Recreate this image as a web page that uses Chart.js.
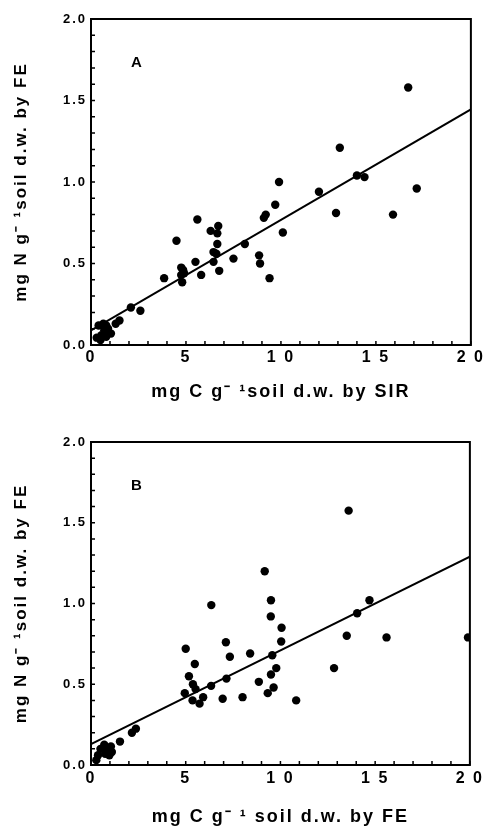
<!DOCTYPE html>
<html>
<head>
<meta charset="utf-8">
<script src="https://cdn.jsdelivr.net/npm/chart.js@4"></script>
<style>
  body { margin: 0; background: #fff; }
  canvas { display: block; }
</style>
</head>
<body>
<canvas id="chartA" width="485" height="413"></canvas>
<canvas id="chartB" width="485" height="413"></canvas>
<script>
// tick labels
const xTickValues = [0, 5, 10, 15, 20];
const xTickLabels = ["0", "5", "1 0", "1 5", "2 0"];
const yTickValues = [0, 0.5, 1, 1.5, 2];
const yTickLabels = ["0.0", "0.5", "1.0", "1.5", "2.0"];

// panel A: C by SIR vs N by FE
const sirX = [16.7, 13.1, 9.9, 12.0, 14.0, 14.4, 17.15, 9.7, 9.2, 9.1, 12.9, 15.9, 10.1, 8.1, 8.85, 8.9, 9.4,
  5.6, 4.5, 6.3, 6.7, 6.65, 6.65, 6.45, 6.6, 5.5, 6.45, 7.5, 6.75, 5.8, 4.75, 4.85, 4.9, 4.75, 4.8, 3.85,
  2.1, 2.6, 0.65, 0.4, 0.8, 1.5, 1.3, 1.05, 0.55, 0.3, 0.7, 0.9, 0.5, 0.8];
const sirN = [1.58, 1.21, 1.00, 0.94, 1.04, 1.03, 0.96, 0.86, 0.80, 0.78, 0.81, 0.80, 0.69, 0.62, 0.55, 0.50, 0.41,
  0.77, 0.64, 0.70, 0.73, 0.685, 0.62, 0.57, 0.56, 0.51, 0.51, 0.53, 0.455, 0.43, 0.475, 0.46, 0.44, 0.43, 0.385, 0.41,
  0.23, 0.21, 0.13, 0.12, 0.12, 0.15, 0.13, 0.07, 0.06, 0.045, 0.09, 0.10, 0.03, 0.05];
const fitA = [0.09, 1.445]; // regression line at x = 0 and x = 20

// panel B: C by FE vs N by FE
const feX = [13.6, 9.17, 9.5, 9.49, 14.7, 14.05, 10.06, 10.04, 13.5, 15.6, 19.9, 8.4, 9.57, 9.78, 9.5, 8.86, 9.64,
  9.33, 8.0, 10.83, 12.83, 6.35, 5.0, 5.48, 5.17, 5.38, 5.52, 4.95, 5.36, 5.73, 5.92, 6.34, 7.12, 7.33, 7.15,
  6.95, 2.37, 2.16, 1.53, 0.7, 1.05, 0.85, 0.97, 0.37, 0.28, 0.75, 1.1, 0.5];
const feN = [1.575, 1.20, 1.02, 0.92, 1.02, 0.94, 0.85, 0.765, 0.80, 0.79, 0.79, 0.69, 0.68, 0.60, 0.56, 0.515, 0.48,
  0.445, 0.42, 0.40, 0.60, 0.99, 0.72, 0.625, 0.55, 0.50, 0.47, 0.445, 0.40, 0.38, 0.42, 0.49, 0.76, 0.67, 0.535,
  0.41, 0.225, 0.20, 0.145, 0.125, 0.115, 0.09, 0.06, 0.06, 0.03, 0.07, 0.08, 0.10];
const fitB = [0.13, 1.29];

const FONT = '"Liberation Sans", Arial, sans-serif';

// box round the plot, inward ticks, panel letter
const framePlugin = {
  id: 'frame',
  beforeDraw(chart) {
    chart.ctx.letterSpacing = '2px';
  },
  afterDraw(chart, args, opts) {
    const { ctx, chartArea: a, scales: { x, y } } = chart;
    ctx.save();
    ctx.strokeStyle = '#000';
    ctx.lineWidth = 2;
    ctx.strokeRect(a.left, a.top, a.right - a.left, a.bottom - a.top);
    ctx.lineWidth = 1.5;
    ctx.beginPath();
    x.ticks.forEach((t, i) => {
      const px = x.getPixelForTick(i);
      ctx.moveTo(px, a.bottom);
      ctx.lineTo(px, a.bottom - 4);
    });
    y.ticks.forEach((t, i) => {
      const py = y.getPixelForTick(i);
      ctx.moveTo(a.left, py);
      ctx.lineTo(a.left + 4, py);
    });
    ctx.stroke();
    ctx.fillStyle = '#000';
    ctx.font = 'bold 15px ' + FONT;
    ctx.textAlign = 'center';
    ctx.textBaseline = 'middle';
    ctx.fillText(opts.letter, x.getPixelForValue(opts.at[0]), y.getPixelForValue(opts.at[1]));
    ctx.restore();
  }
};

function makeChart(id, xs, ys, fit, xTitle, yTitle, letter, padTop, xAxisHeight, tickPad, titlePad) {
  const points = xs.map((v, i) => ({ x: v, y: ys[i] }));
  return new Chart(document.getElementById(id), {
    type: 'scatter',
    data: {
      datasets: [
        {
          data: points,
          pointRadius: 4.2,
          pointBackgroundColor: '#000',
          pointBorderWidth: 0,
        },
        {
          type: 'line',
          data: [{ x: 0, y: fit[0] }, { x: 20, y: fit[1] }],
          borderColor: '#000',
          borderWidth: 2,
          pointRadius: 0,
        },
      ],
    },
    options: {
      responsive: false,
      animation: false,
      layout: { padding: { top: padTop, right: 11, left: 0, bottom: 0 } },
      plugins: {
        legend: { display: false },
        tooltip: { enabled: false },
        frame: { letter: letter, at: [2.45, 1.73] },
      },
      scales: {
        x: {
          type: 'linear',
          min: 0,
          max: 20,
          afterBuildTicks: (s) => {
            s.ticks = Array.from({ length: 21 }, (_, i) => ({ value: i }));
          },
          afterFit: (s) => { s.height = xAxisHeight; },
          grid: { display: false, drawTicks: false },
          border: { display: false },
          ticks: {
            autoSkip: false,
            maxRotation: 0,
            padding: tickPad,
            color: '#000',
            font: { family: FONT, size: 16, weight: 'bold' },
            callback: (v) => {
              const i = xTickValues.indexOf(v);
              return i >= 0 ? xTickLabels[i] : '';
            },
          },
          title: {
            display: true,
            text: xTitle,
            color: '#000',
            font: { family: FONT, size: 18, weight: 'bold', lineHeight: 1 },
            padding: { top: 0, bottom: titlePad },
          },
        },
        y: {
          min: 0,
          max: 2,
          afterBuildTicks: (s) => {
            s.ticks = Array.from({ length: 21 }, (_, i) => ({ value: i / 10 }));
          },
          afterFit: (s) => { s.width = 91; },
          grid: { display: false, drawTicks: false },
          border: { display: false },
          ticks: {
            autoSkip: false,
            padding: 4,
            color: '#000',
            font: { family: FONT, size: 13, weight: 'bold' },
            callback: (v) => {
              const i = yTickValues.findIndex((t) => Math.abs(t - v) < 1e-6);
              return i >= 0 ? yTickLabels[i] : '';
            },
          },
          title: {
            display: true,
            text: yTitle,
            color: '#000',
            font: { family: FONT, size: 17, weight: 'bold', lineHeight: 1 },
            padding: { top: 13, bottom: 0 },
          },
        },
      },
    },
    plugins: [framePlugin],
  });
}

makeChart('chartA', sirX, sirN, fitA, 'mg C g\u207B \u00B9soil d.w. by SIR', 'mg N g\u207B \u00B9soil d.w. by FE', 'A', 19, 68, 3, 12);
makeChart('chartB', feX, feN, fitB, 'mg C g\u207B \u00B9 soil d.w. by FE', 'mg N g\u207B \u00B9soil d.w. by FE', 'B', 29, 61, 4, 0);
</script>
</body>
</html>
